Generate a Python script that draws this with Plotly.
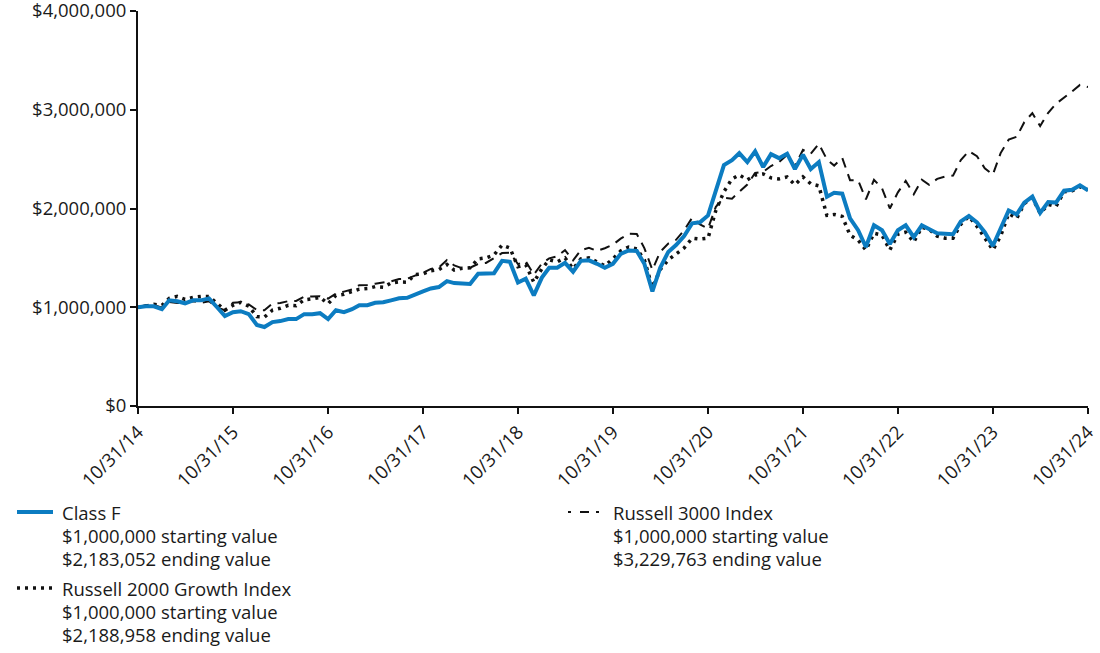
import pandas as pd
import plotly.graph_objects as go

# Month-end dates 10/31/14 .. 10/31/24
dates = pd.date_range("2014-10-31", "2024-10-31", freq="ME")

class_f = [
    1.00, 1.01, 1.01, 0.98, 1.07, 1.06, 1.04, 1.07, 1.07, 1.09, 1.00, 0.91,
    0.95, 0.96, 0.93, 0.82, 0.80, 0.85, 0.86, 0.88, 0.88, 0.93, 0.93, 0.94,
    0.88, 0.97, 0.95, 0.98, 1.02, 1.02, 1.045, 1.05, 1.07, 1.09, 1.095, 1.13,
    1.16, 1.19, 1.205, 1.265, 1.245, 1.24, 1.235, 1.34, 1.34, 1.345, 1.47, 1.46,
    1.25, 1.29, 1.12, 1.30, 1.40, 1.40, 1.45, 1.36, 1.47, 1.475, 1.44, 1.40,
    1.44, 1.54, 1.575, 1.57, 1.44, 1.16, 1.40, 1.56, 1.63, 1.72, 1.85, 1.86,
    1.93, 2.18, 2.44, 2.49, 2.56, 2.47, 2.58, 2.42, 2.55, 2.51, 2.555, 2.40,
    2.545, 2.40, 2.47, 2.12, 2.16, 2.15, 1.90, 1.78, 1.61, 1.83, 1.78, 1.64,
    1.78, 1.83, 1.71, 1.83, 1.79, 1.75, 1.745, 1.74, 1.87, 1.925, 1.86, 1.76,
    1.62, 1.80, 1.98, 1.94, 2.06, 2.12, 1.955, 2.065, 2.06, 2.18, 2.19, 2.235,
    2.183052,
]

r2000g = [
    1.00, 1.01, 1.03, 1.02, 1.09, 1.11, 1.08, 1.10, 1.11, 1.11, 1.04, 0.97,
    1.02, 1.05, 1.01, 0.905, 0.90, 0.97, 0.99, 1.02, 1.015, 1.075, 1.085, 1.10,
    1.035, 1.12, 1.131, 1.154, 1.183, 1.189, 1.209, 1.203, 1.246, 1.256, 1.254, 1.331,
    1.338, 1.370, 1.382, 1.433, 1.377, 1.395, 1.40, 1.49, 1.50, 1.53, 1.63, 1.60,
    1.41, 1.43, 1.253, 1.39, 1.48, 1.46, 1.50, 1.39, 1.49, 1.50, 1.46, 1.42,
    1.49, 1.57, 1.61, 1.59, 1.48, 1.20, 1.38, 1.48, 1.54, 1.60, 1.70, 1.69,
    1.70, 1.98, 2.17, 2.30, 2.34, 2.29, 2.34, 2.35, 2.31, 2.30, 2.32, 2.24,
    2.32, 2.25, 2.229, 1.93, 1.94, 1.92, 1.73, 1.68, 1.58, 1.75, 1.73, 1.58,
    1.74, 1.76, 1.66, 1.81, 1.79, 1.72, 1.70, 1.70, 1.84, 1.92, 1.82, 1.70,
    1.58, 1.72, 1.95, 1.90, 2.05, 2.11, 1.95, 2.04, 2.02, 2.17, 2.18, 2.22,
    2.188958,
]

r3000 = [
    1.000, 1.024, 1.024, 0.995, 1.053, 1.043, 1.048, 1.061, 1.043, 1.061, 0.997, 0.969,
    1.045, 1.051, 1.029, 0.972, 0.969, 1.037, 1.043, 1.062, 1.064, 1.107, 1.110, 1.112,
    1.088, 1.137, 1.158, 1.180, 1.224, 1.225, 1.239, 1.251, 1.262, 1.286, 1.289, 1.320,
    1.349, 1.389, 1.403, 1.478, 1.423, 1.394, 1.400, 1.439, 1.449, 1.497, 1.549, 1.552,
    1.437, 1.466, 1.330, 1.444, 1.495, 1.517, 1.578, 1.475, 1.578, 1.602, 1.570, 1.598,
    1.633, 1.695, 1.744, 1.742, 1.599, 1.379, 1.561, 1.645, 1.683, 1.779, 1.907, 1.838,
    1.798, 2.017, 2.108, 2.100, 2.165, 2.243, 2.359, 2.371, 2.430, 2.471, 2.543, 2.428,
    2.593, 2.554, 2.654, 2.497, 2.435, 2.513, 2.287, 2.285, 2.093, 2.290, 2.205, 2.000,
    2.164, 2.279, 2.144, 2.292, 2.240, 2.300, 2.323, 2.333, 2.491, 2.581, 2.529, 2.408,
    2.343, 2.561, 2.697, 2.727, 2.874, 2.966, 2.835, 2.969, 3.061, 3.119, 3.185, 3.251,
    3.229763,
]

tick_labels = ["10/31/14", "10/31/15", "10/31/16", "10/31/17", "10/31/18", "10/31/19",
               "10/31/20", "10/31/21", "10/31/22", "10/31/23", "10/31/24"]
y_ticks = [0, 1_000_000, 2_000_000, 3_000_000, 4_000_000]
y_tick_labels = ["$0", "$1,000,000", "$2,000,000", "$3,000,000", "$4,000,000"]

legend_entries = [
    ("Class F", "$1,000,000 starting value", "$2,183,052 ending value"),
    ("Russell 2000 Growth Index", "$1,000,000 starting value", "$2,188,958 ending value"),
    ("Russell 3000 Index", "$1,000,000 starting value", "$3,229,763 ending value"),
]

BLUE = "#0c7cc1"
FONT = "Open Sans"
TXT = "#1a1a1a"

scale = 1_000_000
fig = go.Figure()
fig.add_trace(go.Scatter(x=dates, y=[v * scale for v in r3000], mode="lines",
                         line=dict(color="#111111", width=2, dash="10px,7px"),
                         showlegend=False))
fig.add_trace(go.Scatter(x=dates, y=[v * scale for v in r2000g], mode="lines",
                         line=dict(color="#111111", width=3.5, dash="3px,5px"),
                         showlegend=False))
fig.add_trace(go.Scatter(x=dates, y=[v * scale for v in class_f], mode="lines",
                         line=dict(color=BLUE, width=4),
                         showlegend=False))

W, H = 1100, 653
L, R, T, B = 138, 12, 11, 247
pw, ph = W - L - R, H - T - B

def px(x):
    return (x - L) / pw

def py(y):
    return (H - B - y) / ph

shapes = []
annotations = []
legend_pos = [(17, 512, "solid"), (17, 588, "dot"), (568, 512, "dash")]
for (name, s1, s2), (lx, ly, style) in zip(legend_entries, legend_pos):
    if style == "solid":
        line = dict(color=BLUE, width=4)
    elif style == "dot":
        line = dict(color="#111111", width=3.5, dash="3px,5px")
    else:
        line = dict(color="#111111", width=2, dash="3px,9px,9px,7px")
    shapes.append(dict(type="line", xref="paper", yref="paper",
                       x0=px(lx), x1=px(lx + 36), y0=py(ly), y1=py(ly), line=line))
    for i, txt in enumerate((name, s1, s2)):
        annotations.append(dict(text=txt, xref="paper", yref="paper",
                                x=px(lx + 43), y=py(ly + 23 * i), xanchor="left",
                                yanchor="middle", showarrow=False,
                                font=dict(family=FONT, size=18.5, color=TXT)))

axis_common = dict(showgrid=False, zeroline=False, automargin=False,
                   showline=True, linecolor="#111111", linewidth=2,
                   ticks="outside", ticklen=6, tickwidth=2, tickcolor="#111111",
                   ticklabeloverflow="allow",
                   tickfont=dict(family=FONT, size=18.5, color=TXT))

fig.update_layout(
    width=W, height=H,
    margin=dict(l=L, r=R, t=T, b=B, pad=0, autoexpand=False),
    paper_bgcolor="white", plot_bgcolor="white",
    font=dict(family=FONT, size=18.5, color=TXT),
    xaxis=dict(range=[dates[0], dates[-1]],
               tickvals=[dates[i] for i in range(0, 121, 12)], ticktext=tick_labels,
               tickangle=-45, **axis_common),
    yaxis=dict(range=[0, 4_000_000], tickvals=y_ticks, ticktext=y_tick_labels,
               **axis_common),
    shapes=shapes, annotations=annotations,
)

fig.write_html("out.html", config={"displayModeBar": False},
               post_script="document.body.style.margin='0';document.body.style.overflow='hidden';")
